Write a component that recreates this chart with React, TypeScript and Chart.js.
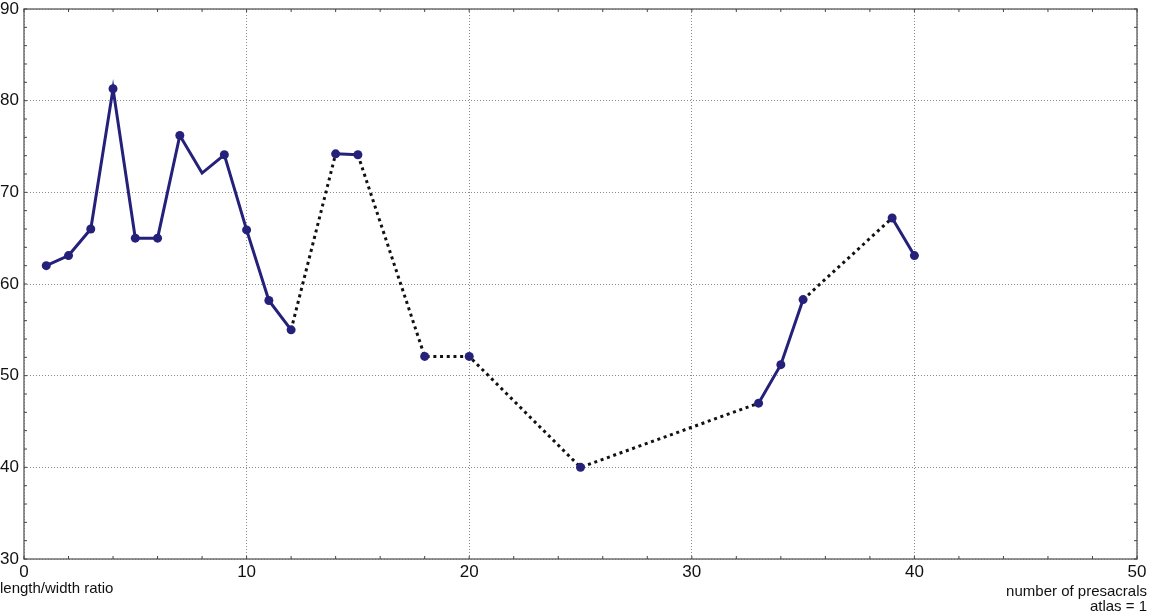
import React, { useEffect, useRef } from "react";
import { Chart, registerables } from "chart.js";

Chart.register(...registerables);

// Solid segments (NaN x / null y = break)
const solidX: number[] = [1, 2, 3, 4, 5, 6, 7, 8, 9, 10, 11, 12, NaN, 14, 15, NaN, 18, NaN, 20, NaN, 25, NaN, 33, 34, 35, NaN, 39, 40];
const solidY: (number | null)[] = [62, 63.1, 66, 81.3, 65, 65, 76.2, 72.1, 74.1, 65.9, 58.2, 55, null, 74.2, 74.1, null, 52.1, null, 52.1, null, 40, null, 47, 51.2, 58.3, null, 67.2, 63.1];
// Points without marker
const noMarkerX: number[] = [8];
// Dotted connections (NaN x / null y = break)
const dottedX: number[] = [12, 14, NaN, 15, 18, 20, 25, 33, NaN, 35, 39];
const dottedY: (number | null)[] = [55, 74.2, null, 74.1, 52.1, 52.1, 40, 47, null, 58.3, 67.2];

const xTicks = [0, 10, 20, 30, 40, 50];
const yTicks = [30, 40, 50, 60, 70, 80, 90];
const xTitle = "length/width ratio";
const xTitleRight = ["number of presacrals", "atlas = 1"];

const NAVY = "#25217a";
const FONT = "'Liberation Sans', Arial, sans-serif";

function toPts(xs: number[], ys: (number | null)[]) {
  return xs.map((x, i) => ({ x: isNaN(x) ? (xs[i - 1] + xs[i + 1]) / 2 : x, y: ys[i] }));
}

export default function App() {
  const ref = useRef<HTMLCanvasElement>(null);
  useEffect(() => {
    const solidPts = toPts(solidX, solidY);
    const radii = solidPts.map((p) => (noMarkerX.includes(p.x) ? 0 : 4.5));
    const framePlugin = {
      id: "frame",
      afterDraw(chart: any) {
        const { ctx, chartArea: a, scales } = chart;
        const xs = scales.x, ys = scales.y;
        ctx.save();
        ctx.strokeStyle = "#6f6f6f";
        ctx.lineWidth = 1.5;
        ctx.strokeRect(a.left, a.top, a.right - a.left, a.bottom - a.top);
        ctx.strokeStyle = "#444";
        ctx.lineWidth = 1;
        for (let v = 0; v <= 50; v += 2) {
          const px = xs.getPixelForValue(v);
          ctx.beginPath();
          ctx.moveTo(px, a.bottom); ctx.lineTo(px, a.bottom - 3);
          ctx.moveTo(px, a.top); ctx.lineTo(px, a.top + 3);
          ctx.stroke();
        }
        for (let v = 30; v <= 90; v += 2) {
          const py = ys.getPixelForValue(v);
          ctx.beginPath();
          ctx.moveTo(a.left, py); ctx.lineTo(a.left + 3, py);
          ctx.moveTo(a.right, py); ctx.lineTo(a.right - 3, py);
          ctx.stroke();
        }
        ctx.fillStyle = "#111";
        ctx.font = `15px ${FONT}`;
        ctx.textBaseline = "middle";
        ctx.textAlign = "left";
        ctx.fillText(xTitle, 0, 589);
        ctx.textAlign = "right";
        ctx.fillText(xTitleRight[0], 1147, 592);
        ctx.fillText(xTitleRight[1], 1147, 607);
        ctx.restore();
      },
    };
    const chart = new Chart(ref.current!, {
      type: "line",
      data: {
        datasets: [
          {
            data: solidPts as any,
            borderColor: NAVY,
            backgroundColor: NAVY,
            borderWidth: 3,
            pointRadius: radii,
            pointBorderWidth: 0,
            pointBackgroundColor: NAVY,
            spanGaps: false,
            order: 1,
          },
          {
            data: toPts(dottedX, dottedY) as any,
            borderColor: "#111",
            borderWidth: 3,
            borderDash: [3, 3.7],
            pointRadius: 0,
            spanGaps: false,
            order: 2,
          },
        ],
      },
      options: {
        animation: false,
        responsive: false,
        events: [],
        layout: { padding: { top: 0, right: 13, left: 0, bottom: 0 } },
        plugins: { legend: { display: false }, tooltip: { enabled: false } },
        scales: {
          x: {
            type: "linear",
            min: 0,
            max: 50,
            afterBuildTicks: (s: any) => { s.ticks = xTicks.map((v) => ({ value: v })); },
            afterFit: (s: any) => { s.height = 54; },
            border: { display: false, dash: [1, 2] },
            grid: { color: "#8a8a8a", lineWidth: 1, drawTicks: false },
            ticks: { color: "#111", font: { family: FONT, size: 17 }, padding: 3, maxRotation: 0 },
          },
          y: {
            type: "linear",
            min: 30,
            max: 90,
            afterBuildTicks: (s: any) => { s.ticks = yTicks.map((v) => ({ value: v })); },
            afterFit: (s: any) => { s.width = 24; s.paddingTop = 9; s.paddingBottom = 0; },
            border: { display: false, dash: [1, 2] },
            grid: { color: "#8a8a8a", lineWidth: 1, drawTicks: false },
            ticks: { color: "#111", font: { family: FONT, size: 17 }, padding: 5 },
          },
        },
      },
      plugins: [framePlugin],
    });
    return () => chart.destroy();
  }, []);
  return (
    <div style={{ position: "fixed", left: 0, top: 0, width: 1150, height: 613, background: "#fff" }}>
      <canvas ref={ref} width={1150} height={613} />
    </div>
  );
}
